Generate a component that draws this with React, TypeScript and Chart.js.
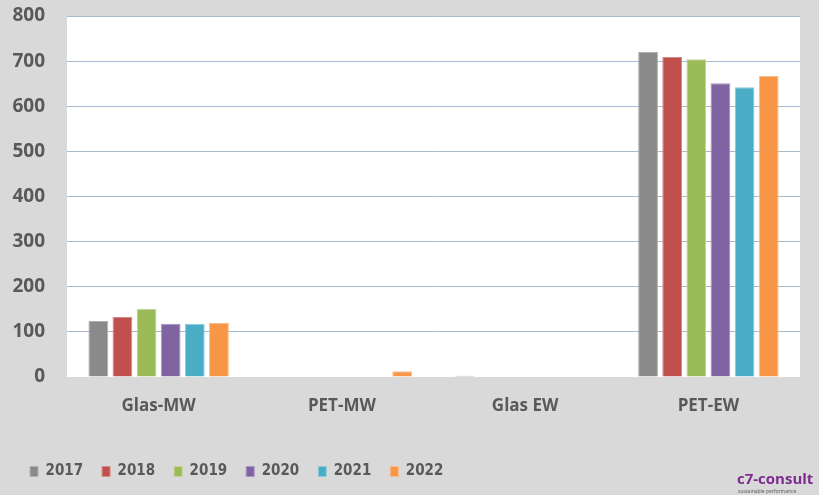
import React, { useEffect, useRef } from "react";
import { Chart, registerables } from "chart.js";

Chart.register(...registerables);

const categories = ["Glas-MW", "PET-MW", "Glas EW", "PET-EW"];
const years = ["2017", "2018", "2019", "2020", "2021", "2022"];
const values2017 = [124, 0, 3, 720];
const values2018 = [133, 0, 0, 709];
const values2019 = [151, 0, 0, 704];
const values2020 = [118, 0, 0, 651];
const values2021 = [118, 0, 0, 642];
const values2022 = [120, 13, 0, 667];
const seriesValues = [values2017, values2018, values2019, values2020, values2021, values2022];
const colors = ["#8a8a8a", "#c0504d", "#9bbb59", "#8064a2", "#4bacc6", "#f79646"];
const borders = ["#b0b0b0", "#d88886", "#bfd495", "#a994c2", "#8ccbdc", "#f9bb8a"];
const yTicks = [0, 100, 200, 300, 400, 500, 600, 700, 800];

const plotBg = {
  id: "plotBg",
  beforeDraw(chart: any) {
    const { ctx, chartArea } = chart;
    ctx.save();
    ctx.fillStyle = "#ffffff";
    ctx.fillRect(chartArea.left, chartArea.top, chartArea.right - chartArea.left, chartArea.bottom - chartArea.top);
    ctx.restore();
  },
};

export default function App() {
  const ref = useRef<HTMLCanvasElement>(null);
  useEffect(() => {
    document.body.style.margin = "0";
    const chart = new Chart(ref.current!, {
      type: "bar",
      data: {
        labels: categories,
        datasets: years.map((y, i) => ({
          label: y,
          data: seriesValues[i],
          backgroundColor: colors[i],
          borderColor: borders[i],
          borderWidth: 1,
          categoryPercentage: 0.79,
          barPercentage: 0.82,
        })),
      },
      options: {
        animation: false,
        responsive: false,
        maintainAspectRatio: false,
        layout: { padding: { left: 11, right: 19, top: 16, bottom: 6 } },
        plugins: {
          tooltip: { enabled: false },
          legend: {
            position: "bottom",
            align: "start",
            labels: {
              boxWidth: 8,
              boxHeight: 10,
              padding: 19,
              color: "#595959",
              font: { family: "'Liberation Sans Narrow', 'DejaVu Sans Condensed', 'Roboto', sans-serif", size: 15, weight: "bold" },
            },
          },
        },
        scales: {
          x: {
            grid: { display: false, drawTicks: false },
            border: { display: false },
            ticks: {
              color: "#595959",
              padding: 19,
              font: { family: "'Open Sans', sans-serif", size: 17, weight: "bold" },
            },
            afterFit(scale: any) {
              scale.height = 68;
              scale.paddingLeft = 0;
              scale.paddingRight = 0;
            },
          },
          y: {
            min: 0,
            max: 800,
            afterBuildTicks(scale: any) {
              scale.ticks = yTicks.map((v) => ({ value: v }));
            },
            grid: {
              drawTicks: false,
              color: (c: any) => (c.tick && c.tick.value === 0 ? "rgba(0,0,0,0)" : "#a7b9d1"),
              lineWidth: 1,
            },
            border: { display: false },
            ticks: {
              color: "#595959",
              padding: 22,
              font: { family: "'Open Sans', sans-serif", size: 19, weight: "bold" },
            },
            afterFit(scale: any) {
              scale.width = 56;
              scale.paddingTop = 0;
              scale.paddingBottom = 0;
            },
          },
        },
      },
      plugins: [plotBg],
    });
    return () => chart.destroy();
  }, []);
  return (
    <div style={{ position: "relative", width: 819, height: 495, background: "#d9d9d9", overflow: "hidden" }}>
      <canvas ref={ref} width={819} height={495} style={{ display: "block" }} />
      <div
        style={{
          position: "absolute",
          left: 737,
          top: 469,
          fontFamily: "'Open Sans', sans-serif",
          fontWeight: 700,
          fontSize: 15,
          color: "#7d2c8f",
          lineHeight: "18px",
          whiteSpace: "nowrap",
        }}
      >
        c7-consult
      </div>
      <div
        style={{
          position: "absolute",
          left: 738,
          top: 488,
          fontFamily: "'Open Sans', sans-serif",
          fontSize: 5,
          color: "#555",
          lineHeight: "6px",
          whiteSpace: "nowrap",
        }}
      >
        sustainable performance
      </div>
    </div>
  );
}
